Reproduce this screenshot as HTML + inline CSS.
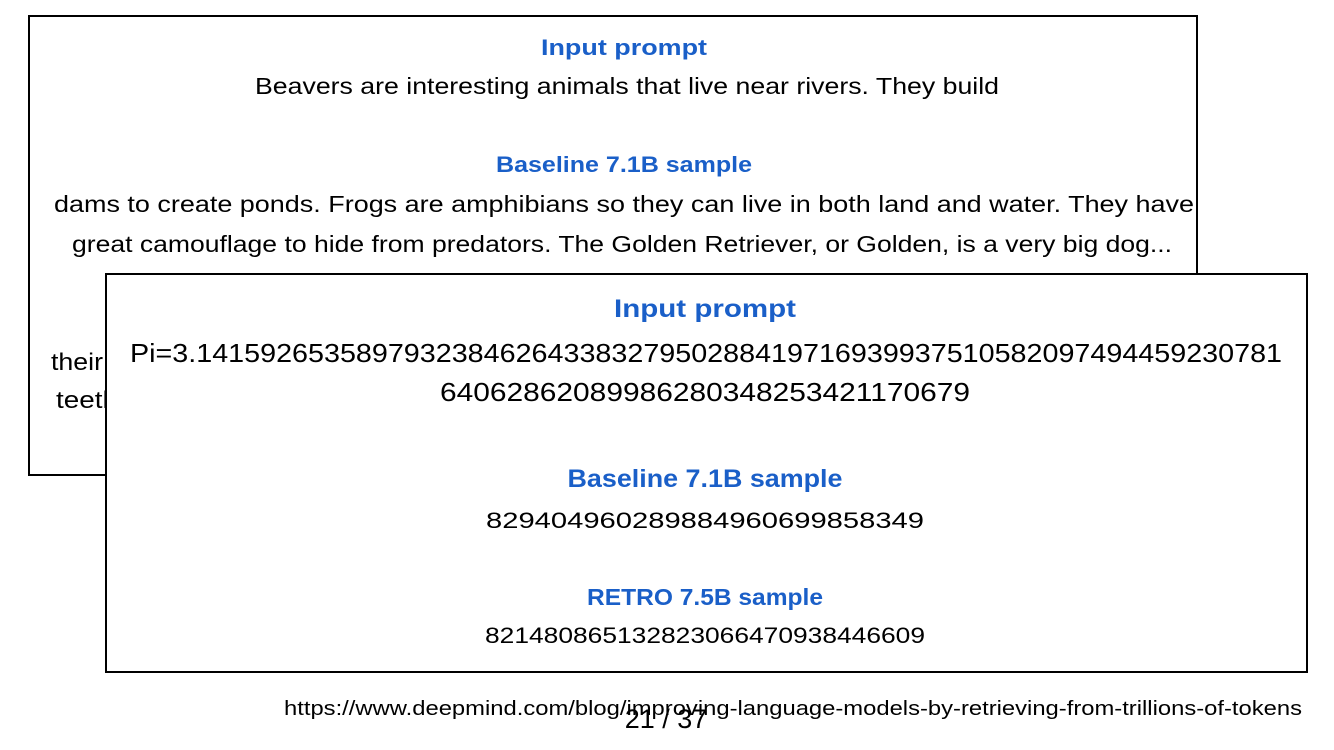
<!DOCTYPE html>
<html><head><meta charset="utf-8"><style>
html,body{margin:0;padding:0;background:#fff;width:1334px;height:750px;overflow:hidden}
svg{display:block}
text{font-family:"Liberation Sans",sans-serif}
.b{fill:#1a5fc8;font-weight:bold}
</style></head><body>
<svg width="1334" height="750" viewBox="0 0 1334 750">
<rect x="29" y="16" width="1168" height="459" fill="#fff" stroke="#000" stroke-width="2"/>
<text class="b" x="624" y="55" font-size="22" text-anchor="middle" textLength="166" lengthAdjust="spacingAndGlyphs">Input prompt</text>
<text x="627" y="94" font-size="23" text-anchor="middle" textLength="744" lengthAdjust="spacingAndGlyphs">Beavers are interesting animals that live near rivers. They build</text>
<text class="b" x="624" y="172" font-size="22" text-anchor="middle" textLength="256" lengthAdjust="spacingAndGlyphs">Baseline 7.1B sample</text>
<text x="624" y="212" font-size="23" text-anchor="middle" textLength="1140" lengthAdjust="spacingAndGlyphs">dams to create ponds. Frogs are amphibians so they can live in both land and water. They have</text>
<text x="622" y="252" font-size="23" text-anchor="middle" textLength="1100" lengthAdjust="spacingAndGlyphs">great camouflage to hide from predators. The Golden Retriever, or Golden, is a very big dog...</text>
<text x="51" y="370" font-size="24" textLength="52" lengthAdjust="spacingAndGlyphs">their</text>
<text x="56" y="408" font-size="24" textLength="62" lengthAdjust="spacingAndGlyphs">teeth</text>
<rect x="106" y="274" width="1201" height="398" fill="#fff" stroke="#000" stroke-width="2"/>
<text class="b" x="705" y="317" font-size="25" text-anchor="middle" textLength="182" lengthAdjust="spacingAndGlyphs">Input prompt</text>
<text x="706" y="362" font-size="26" text-anchor="middle" textLength="1152" lengthAdjust="spacingAndGlyphs">Pi=3.14159265358979323846264338327950288419716939937510582097494459230781</text>
<text x="705" y="401" font-size="26" text-anchor="middle" textLength="530" lengthAdjust="spacingAndGlyphs">64062862089986280348253421170679</text>
<text class="b" x="705" y="487" font-size="25" text-anchor="middle" textLength="275" lengthAdjust="spacingAndGlyphs">Baseline 7.1B sample</text>
<text x="705" y="528" font-size="22" text-anchor="middle" textLength="438" lengthAdjust="spacingAndGlyphs">829404960289884960699858349</text>
<text class="b" x="705" y="605" font-size="23" text-anchor="middle" textLength="236" lengthAdjust="spacingAndGlyphs">RETRO 7.5B sample</text>
<text x="705" y="643" font-size="22" text-anchor="middle" textLength="440" lengthAdjust="spacingAndGlyphs">821480865132823066470938446609</text>
<text x="284" y="715" font-size="20" textLength="1018" lengthAdjust="spacingAndGlyphs">https://www.deepmind.com/blog/improving-language-models-by-retrieving-from-trillions-of-tokens</text>
<text x="666" y="728" font-size="27" text-anchor="middle">21 / 37</text>
</svg>
</body></html>
